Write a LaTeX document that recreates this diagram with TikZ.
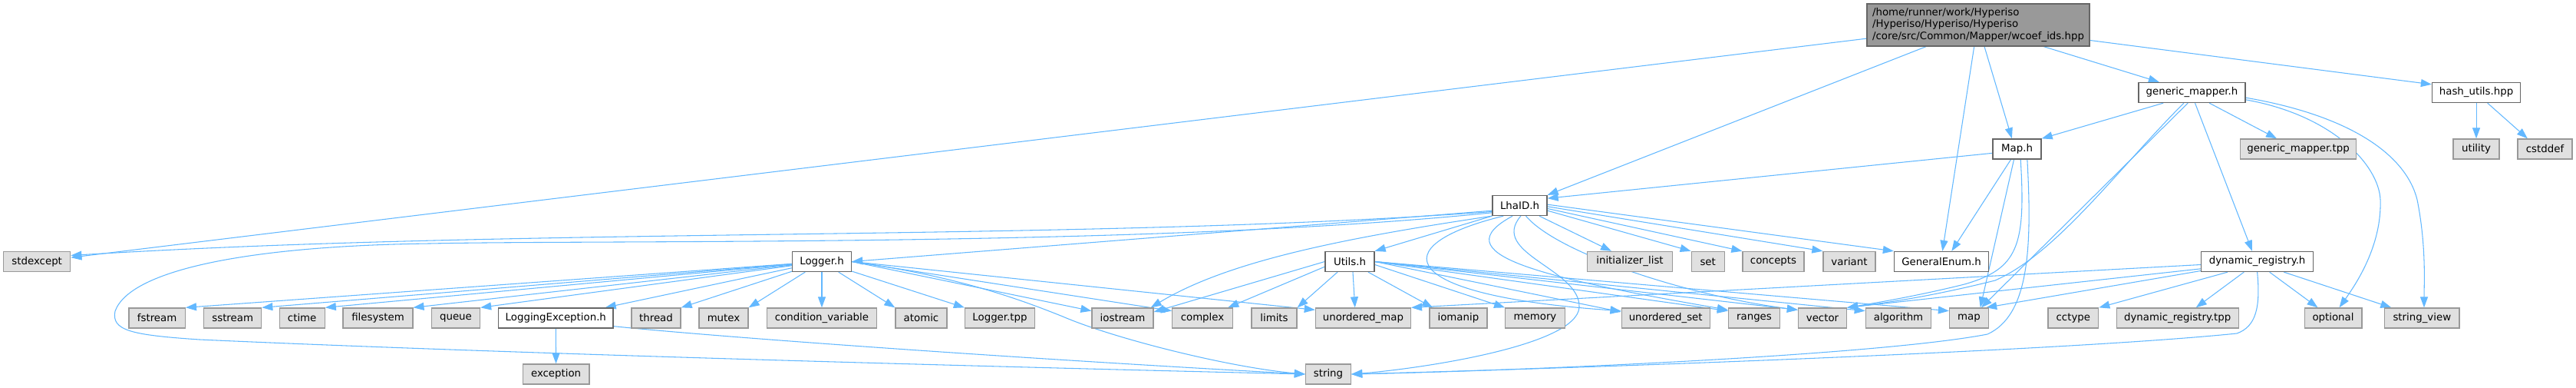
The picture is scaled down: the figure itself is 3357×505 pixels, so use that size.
\documentclass[tikz,border=0pt]{standalone}
\usepackage{fontspec}
\setmainfont{DejaVu Sans}
\usetikzlibrary{arrows.meta}
\pgfdeclarelayer{background}
\pgfsetlayers{background,main}
\definecolor{edgec}{HTML}{63B8FF}
\definecolor{extfill}{HTML}{E0E0E0}
\definecolor{extdraw}{HTML}{999999}
\definecolor{intdraw}{HTML}{666666}
\definecolor{rootfill}{HTML}{999999}
\begin{document}
\begin{tikzpicture}[x=0.75pt,y=-0.75pt,
 base/.style={rectangle, inner sep=0pt, minimum height=19.5pt, font=\fontsize{10}{11.5}\selectfont, line width=1pt},
 wd/.style={minimum width=#1*0.75pt},
 ext/.style={base, fill=extfill, draw=extdraw},
 int/.style={base, fill=white, draw=intdraw},
 rootbox/.style={base, fill=rootfill, draw=intdraw, align=left},
 edge/.style={draw=edgec, line width=0.8pt, -{Triangle[length=10.5pt,width=7.5pt]}}]
\useasboundingbox (0,0) rectangle (3357,505);
% nodes
\node[rootbox, wd=290, minimum height=41.25pt] (root) at (2578,32.5) {/home/runner/work/Hyperiso\\/Hyperiso/Hyperiso/Hyperiso\\/core/src/Common/Mapper/wcoef\_ids.hpp};
\node[int, wd=139] (gmh) at (2856.5,120.5) {generic\_mapper.h};
\node[int, wd=115] (hash) at (3227,120.5) {hash\_utils.hpp};
\node[int, wd=63] (maph) at (2628.5,194) {Map.h};
\node[ext, wd=151] (gmtpp) at (2995,194) {generic\_mapper.tpp};
\node[ext, wd=60] (utility) at (3227,194) {utility};
\node[ext, wd=71] (cstddef) at (3316.5,194) {cstddef};
\node[int, wd=71] (lhaid) at (1980.5,267.5) {LhaID.h};
\node[ext, wd=87] (stdexcept) at (48.2,340.5) {stdexcept};
\node[int, wd=77] (logger) at (1071,340.5) {Logger.h};
\node[int, wd=64] (utils) at (1759,340.5) {Utils.h};
\node[ext, wd=111] (initlist) at (2124,340.5) {initializer\_list};
\node[ext, wd=43] (set) at (2225.7,340.5) {set};
\node[ext, wd=80] (concepts) at (2311,340.5) {concepts};
\node[ext, wd=68] (variant) at (2410,340.5) {variant};
\node[int, wd=123] (genenum) at (2530,340.5) {GeneralEnum.h};
\node[int, wd=146] (dynreg) at (2941.6,340.5) {dynamic\_registry.h};
\node[ext, wd=73.5] (fstream) at (204.6,414) {fstream};
\node[ext, wd=75] (sstream) at (303.2,414) {sstream};
\node[ext, wd=59] (ctime) at (393.7,414) {ctime};
\node[ext, wd=90.7] (filesystem) at (492.5,414) {filesystem};
\node[ext, wd=63] (queue) at (594,414) {queue};
\node[int, wd=149.3] (logexc) at (724.3,414) {LoggingException.h};
\node[ext, wd=64] (thread) at (855,414) {thread};
\node[ext, wd=64] (mutex) at (943,414) {mutex};
\node[ext, wd=143] (condvar) at (1071,414) {condition\_variable};
\node[ext, wd=67] (atomic) at (1200.5,414) {atomic};
\node[ext, wd=91] (loggertpp) at (1303,414) {Logger.tpp};
\node[ext, wd=80] (iostream) at (1463,414) {iostream};
\node[ext, wd=78.5] (complex) at (1567,414) {complex};
\node[ext, wd=59] (limits) at (1660.5,414) {limits};
\node[ext, wd=124] (umap) at (1776.4,414) {unordered\_map};
\node[ext, wd=75] (iomanip) at (1900.4,414) {iomanip};
\node[ext, wd=77.5] (memory) at (2000.5,414) {memory};
\node[ext, wd=115] (uset) at (2170.7,414) {unordered\_set};
\node[ext, wd=67] (ranges) at (2286,414) {ranges};
\node[ext, wd=63] (vector) at (2375,414) {vector};
\node[ext, wd=85.4] (algorithm) at (2474,414) {algorithm};
\node[ext, wd=51] (map) at (2566,414) {map};
\node[ext, wd=65.7] (cctype) at (2701.8,414) {cctype};
\node[ext, wd=159] (dyntpp) at (2837.7,414) {dynamic\_registry.tpp};
\node[ext, wd=74.6] (optional) at (3040.5,414) {optional};
\node[ext, wd=97.4] (strview) at (3156.3,414) {string\_view};
\node[ext, wd=86.5] (exception) at (724.6,487) {exception};
\node[ext, wd=59] (string) at (1731,487) {string};
\begin{pgfonlayer}{background}
% root edges
\draw[edge] (root) -- (stdexcept);
\draw[edge] ([xshift=-51pt]root.south) -- (lhaid.north east);
\draw[edge] ([xshift=-4pt]root.south) -- ([xshift=1pt]genenum.north);
\draw[edge] ([xshift=6pt]root.south) -- ([xshift=-5pt]maph.north);
\draw[edge] ([xshift=64pt]root.south) -- ([xshift=-32pt]gmh.north);
\draw[edge] ([yshift=-15pt]root.east) -- ([yshift=8pt]hash.west);
% hash
\draw[edge] (hash) -- (utility);
\draw[edge] ([xshift=11pt]hash.south) -- ([xshift=-17pt]cstddef.north);
% generic_mapper.h
\draw[edge] ([xshift=-28pt]gmh.south) -- (maph.north east);
\draw[edge] ([xshift=-8pt]gmh.south) .. controls (2760,220) and (2680,330) .. (2600,365) .. controls (2500,390) and (2440,396) .. (vector.north east);
\draw[edge] ([xshift=-4pt]gmh.south) -- ([xshift=12pt]map.north);
\draw[edge] ([xshift=3pt]gmh.south) -- ([xshift=-5pt]dynreg.north);
\draw[edge] ([xshift=17pt]gmh.south) -- ([xshift=-21pt]gmtpp.north);
\draw[edge] ([yshift=-7pt]gmh.east) .. controls (3040,150) and (3100,215) .. (3102,260) .. controls (3104,320) and (3070,370) .. ([xshift=6pt]optional.north);
\draw[edge] ([yshift=-5pt]gmh.east) .. controls (3060,150) and (3135,200) .. (3150,260) .. controls (3162,320) and (3159,370) .. ([xshift=2pt]strview.north);
% Map.h
\draw[edge] ([yshift=-4pt]maph.west) -- ([yshift=7pt]lhaid.east);
\draw[edge] ([xshift=-6pt]maph.south) -- ([xshift=10pt]genenum.north);
\draw[edge] ([xshift=-3pt]maph.south) -- ([xshift=11pt]map.north);
\draw[edge] ([xshift=3.5pt]maph.south) .. controls (2640,320) and (2630,350) .. (2560,370) .. controls (2500,385) and (2440,395) .. (vector.north east);
\draw[edge] ([xshift=10pt]maph.south) .. controls (2648,320) and (2645,410) .. (2590,435) .. controls (2450,462) and (2000,482) .. (string.east);
% dynamic_registry.h
\draw[edge] ([yshift=-3pt]dynreg.west) -- (umap.north east);
\draw[edge] ([yshift=-7pt]dynreg.west) -- (vector.north east);
\draw[edge] ([yshift=-9pt]dynreg.west) -- ([xshift=-3pt]map.north east);
\draw[edge] ([xshift=-29pt]dynreg.south) -- (cctype.north east);
\draw[edge] ([xshift=-13pt]dynreg.south) -- ([xshift=18pt]dyntpp.north);
\draw[edge] ([xshift=12pt]dynreg.south) -- ([xshift=-15pt]optional.north);
\draw[edge] ([xshift=26pt]dynreg.south) -- ([xshift=-30pt]strview.north);
\draw[edge] (dynreg.south) .. controls (2946,400) and (2940,425) .. (2915,434) .. controls (2700,456) and (2100,478) .. (string.east);
% LhaID.h
\draw[edge] ([yshift=-6pt]lhaid.west) .. controls (1400,315) and (700,295) .. ([yshift=6pt]stdexcept.east);
\draw[edge] ([yshift=-7pt]lhaid.west) .. controls (1500,322) and (800,312) .. (560,317) .. controls (330,320) and (170,350) .. (150,405) .. controls (145,430) and (170,436) .. (260,442) .. controls (700,462) and (1400,480) .. (string.west);
\draw[edge] ([yshift=-5pt]lhaid.west) -- (logger.east);
\draw[edge] (lhaid.south west) -- (utils.north east);
\draw[edge] (lhaid.south west) .. controls (1750,310) and (1600,340) .. ([xshift=-3pt]iostream.north east);
\draw[edge] ([xshift=-8pt]lhaid.south east) -- ([xshift=-18pt]initlist.north);
\draw[edge] ([yshift=-5pt]lhaid.east) -- (set.north west);
\draw[edge] ([yshift=-3pt]lhaid.east) -- (concepts.north west);
\draw[edge] ([yshift=-1pt]lhaid.east) -- (variant.north west);
\draw[edge] ([yshift=1pt]lhaid.east) -- (genenum.north west);
\draw[edge] ([xshift=-16pt]lhaid.south) .. controls (1800,320) and (1820,385) .. ([yshift=7pt]uset.west);
\draw[edge] ([xshift=-7pt]lhaid.south) .. controls (1880,330) and (2000,360) .. ([yshift=8pt]ranges.west);
\draw[edge] ([xshift=1pt]lhaid.south) .. controls (1940,330) and (2060,350) .. (2058,400) .. controls (2055,450) and (1850,480) .. (string.east);
\draw[edge] ([xshift=6pt]lhaid.south) .. controls (2030,330) and (2200,385) .. ([yshift=8pt]vector.west);
% Utils.h
\draw[edge] (utils.west) -- ([yshift=6pt]iostream.east);
\draw[edge] ([yshift=-5pt]utils.west) -- ([xshift=-5pt]complex.north east);
\draw[edge] ([xshift=-12pt]utils.south) -- (limits.north east);
\draw[edge] ([xshift=3pt]utils.south) -- ([xshift=-8pt]umap.north);
\draw[edge] ([xshift=18pt]utils.south) -- ([xshift=-25pt]iomanip.north);
\draw[edge] ([yshift=-3pt]utils.east) -- (memory.north west);
\draw[edge] (utils.east) -- ([yshift=6pt]uset.west);
\draw[edge] (utils.east) -- ([yshift=7pt]ranges.west);
\draw[edge] (utils.east) -- ([yshift=8pt]vector.west);
\draw[edge] (utils.east) -- ([yshift=7pt]algorithm.west);
\draw[edge] (utils.east) -- ([yshift=7pt]map.west);
% Logger.h
\draw[edge] (logger) -- (fstream.north east);
\draw[edge] (logger) -- (sstream.north east);
\draw[edge] (logger) -- (ctime.north east);
\draw[edge] (logger) -- (filesystem.north east);
\draw[edge] (logger) -- (queue.north east);
\draw[edge] (logger) -- (logexc);
\draw[edge] (logger) -- (thread.north east);
\draw[edge] (logger) -- (mutex.north east);
\draw[edge] (logger) -- (condvar);
\draw[edge] (logger) -- (atomic.north west);
\draw[edge] (logger) -- (loggertpp.north west);
\draw[edge] (logger.east) -- ([yshift=7pt]iostream.west);
\draw[edge] (logger.east) -- ([yshift=7pt]complex.west);
\draw[edge] (logger.east) -- ([yshift=8pt]umap.west);
\draw[edge] (logger.east) .. controls (1250,360) and (1330,390) .. (1385,412) .. controls (1450,440) and (1600,478) .. (string.west);
% LoggingException.h
\draw[edge] (logexc) -- (exception);
\draw[edge] ([yshift=-8pt]logexc.east) .. controls (950,440) and (1350,468) .. (string.west);
\end{pgfonlayer}
\end{tikzpicture}
\end{document}
